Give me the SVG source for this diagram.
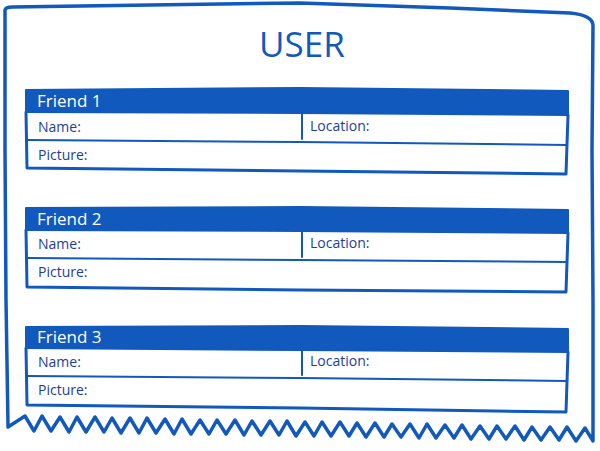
<svg xmlns="http://www.w3.org/2000/svg" width="600" height="451" viewBox="0 0 600 451">
<style>
.ink{fill:none;stroke:#1159bd;stroke-linecap:round;stroke-linejoin:round}
.frame{stroke-width:3.5}
.box{stroke-width:3}
.thin{stroke-width:2}
.hdr{fill:#1159bd;stroke:#1159bd;stroke-width:2;stroke-linejoin:round}
.title{font-family:"Open Sans","Liberation Sans",sans-serif;font-size:35px;fill:#1159bd;font-weight:400}
.htxt{font-family:"Open Sans","Liberation Sans",sans-serif;font-size:17px;fill:#ffffff}
.lbl{font-family:"Open Sans","Liberation Sans",sans-serif;font-size:14px;fill:#1a3e9e}
</style>
<rect width="600" height="451" fill="#ffffff"/>
<g id="frame">
<path class="ink frame" d="M8,426 L6,300 L5,150 L5,28 L5,10 Q6,7 12,7 L150,5 L300,3 L450,8 L570,13 Q592,15 593,25 L592,150 L593,300 L593,441 L585,428 L576,441 L567,427 L559,440 L550,427 L541,440 L532,427 L524,440 L515,426 L506,439 L497,426 L489,439 L480,426 L471,439 L462,425 L454,438 L445,425 L436,438 L427,424 L419,438 L410,424 L401,437 L392,424 L384,437 L375,423 L366,437 L357,423 L349,436 L340,422 L331,436 L322,422 L314,436 L305,422 L296,436 L287,421 L279,435 L270,421 L261,435 L252,421 L244,435 L235,420 L226,434 L217,420 L209,434 L200,420 L191,434 L182,419 L174,434 L165,419 L156,433 L147,418 L139,433 L130,418 L121,433 L112,418 L104,432 L95,417 L86,432 L77,417 L69,432 L60,417 L51,431 L42,416 L34,431 L25,416 L8,427"/>
<text class="title" x="302" y="57" text-anchor="middle">USER</text>
</g>
<g id="friend1">
<path class="hdr" d="M26,90 L300,88 L568,91 L568,115 L300,113 L26,112 Z"/>
<path class="ink box" d="M26,112 L27,168 L300,171 L566,174 L568,115"/>
<path class="ink thin" d="M27,140 L300,142 L567,145"/>
<path class="ink thin" d="M302,114 L302,139"/>
<text class="htxt" x="37" y="107">Friend 1</text>
<text class="lbl" x="38" y="132">Name:</text>
<text class="lbl" x="310" y="131">Location:</text>
<text class="lbl" x="38" y="160">Picture:</text>
</g>
<g id="friend2">
<path class="hdr" d="M26,208 L300,207 L568,210 L568,233 L300,231 L26,230 Z"/>
<path class="ink box" d="M26,230 L27,287 L300,290 L566,292 L568,233"/>
<path class="ink thin" d="M27,258 L300,260 L567,262"/>
<path class="ink thin" d="M302,232 L302,257"/>
<text class="htxt" x="37" y="225">Friend 2</text>
<text class="lbl" x="38" y="249">Name:</text>
<text class="lbl" x="310" y="248">Location:</text>
<text class="lbl" x="38" y="277">Picture:</text>
</g>
<g id="friend3">
<path class="hdr" d="M26,327 L300,326 L568,329 L568,352 L300,350 L26,348 Z"/>
<path class="ink box" d="M26,348 L27,405 L300,408 L566,412 L568,352"/>
<path class="ink thin" d="M27,376 L300,378 L567,381"/>
<path class="ink thin" d="M302,350 L302,375"/>
<text class="htxt" x="37" y="343">Friend 3</text>
<text class="lbl" x="38" y="367">Name:</text>
<text class="lbl" x="310" y="366">Location:</text>
<text class="lbl" x="38" y="395">Picture:</text>
</g>
<g id="connectors"/>
</svg>
